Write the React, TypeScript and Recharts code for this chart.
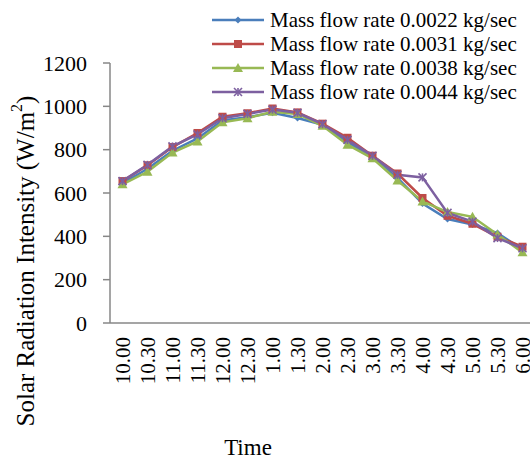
import React from "react";
import { LineChart, Line, XAxis, YAxis, Legend } from "recharts";

const times = ["10.00", "10.30", "11.00", "11.30", "12.00", "12.30", "1.00", "1.30", "2.00", "2.30", "3.00", "3.30", "4.00", "4.30", "5.00", "5.30", "6.00"];
const flow0022 = [645, 712, 795, 852, 935, 950, 970, 946, 915, 835, 765, 670, 551, 480, 455, 415, 340];
const flow0031 = [655, 728, 812, 877, 952, 968, 990, 972, 920, 855, 772, 690, 577, 495, 458, 398, 352];
const flow0038 = [640, 698, 787, 838, 926, 945, 975, 965, 910, 823, 760, 658, 561, 512, 490, 408, 326];
const flow0044 = [655, 730, 815, 870, 945, 965, 985, 970, 918, 845, 772, 684, 672, 508, 468, 392, 345];
const yTicks = [0, 200, 400, 600, 800, 1000, 1200];

const series = [
  { key: "f1", name: "Mass flow rate 0.0022 kg/sec", color: "#4a7ebb", marker: "diamond" },
  { key: "f2", name: "Mass flow rate 0.0031 kg/sec", color: "#be4b48", marker: "square" },
  { key: "f3", name: "Mass flow rate 0.0038 kg/sec", color: "#98b954", marker: "triangle" },
  { key: "f4", name: "Mass flow rate 0.0044 kg/sec", color: "#7d60a0", marker: "star" },
];

const data = times.map((t, i) => ({
  time: t,
  f1: flow0022[i],
  f2: flow0031[i],
  f3: flow0038[i],
  f4: flow0044[i],
}));

const FONT = "'Liberation Serif', 'Times New Roman', serif";
const AXIS = "#878787";

function marker(type: string, cx: number, cy: number, color: string, key?: any) {
  if (type === "diamond") {
    return <path key={key} d={`M${cx},${cy - 3.5}L${cx + 3.5},${cy}L${cx},${cy + 3.5}L${cx - 3.5},${cy}Z`} fill={color} />;
  }
  if (type === "square") {
    return <rect key={key} x={cx - 4} y={cy - 4} width={8} height={8} fill={color} />;
  }
  if (type === "triangle") {
    return <path key={key} d={`M${cx},${cy - 5}L${cx + 5},${cy + 4}L${cx - 5},${cy + 4}Z`} fill={color} />;
  }
  return (
    <g key={key} stroke={color} strokeWidth={1.6}>
      <line x1={cx - 4} y1={cy - 4} x2={cx + 4} y2={cy + 4} />
      <line x1={cx - 4} y1={cy + 4} x2={cx + 4} y2={cy - 4} />
      <line x1={cx} y1={cy - 4} x2={cx} y2={cy + 4} />
    </g>
  );
}

const TimeTick = (props: any) => {
  const { x, y, payload } = props;
  return (
    <text x={x} y={y} transform={`rotate(-90 ${x} ${y})`} textAnchor="end" dy="0.35em" fontSize={21} fontFamily={FONT} fill="#000">
      {payload.value}
    </text>
  );
};

const LegendBox = (props: any) => {
  const items = props.payload || [];
  return (
    <div style={{ fontFamily: FONT, fontSize: 21, lineHeight: "24px", color: "#000" }}>
      {items.map((p: any) => {
        const s = series.find((x) => x.key === p.dataKey) || series[0];
        return (
          <div key={s.key} style={{ display: "flex", alignItems: "center", height: 24, whiteSpace: "nowrap" }}>
            <svg width={52} height={12} style={{ marginRight: 6 }}>
              <line x1={0} y1={6} x2={52} y2={6} stroke={s.color} strokeWidth={2.5} />
              {marker(s.marker, 26, 6, s.color)}
            </svg>
            <span>{s.name}</span>
          </div>
        );
      })}
    </div>
  );
};

export default function App() {
  return (
    <div style={{ position: "fixed", left: 0, top: 0, width: 530, height: 459, overflow: "hidden", background: "#fff" }}>
      <LineChart width={540} height={459} data={data} margin={{ top: 63, right: 5, bottom: 4, left: 0 }}>
        <XAxis
          dataKey="time"
          interval={0}
          padding={{ left: 12.5, right: 12.5 }}
          tickLine={false}
          axisLine={{ stroke: AXIS, strokeWidth: 1.5 }}
          height={132}
          tickSize={6}
          tickMargin={8}
          tick={<TimeTick />}
          label={() => (
            <text x={248} y={455} textAnchor="middle" fontSize={23} fontFamily={FONT} fill="#000">
              Time
            </text>
          )}
        />
        <YAxis
          domain={[0, 1200]}
          ticks={yTicks}
          interval={0}
          width={110}
          tickSize={7}
          tickMargin={16}
          axisLine={{ stroke: AXIS, strokeWidth: 1.5 }}
          tickLine={{ stroke: AXIS, strokeWidth: 1.5 }}
          tick={{ fontSize: 22, fontFamily: FONT, fill: "#000" }}
          label={() => (
            <text x={25} y={261} transform="rotate(-90 25 261)" textAnchor="middle" dominantBaseline="central" fontSize={25} fontFamily={FONT} fill="#000">
              Solar Radiation Intensity (W/m<tspan dy={-9} fontSize={16}>2</tspan><tspan dy={9}>)</tspan>
            </text>
          )}
        />
        <Legend
          layout="vertical"
          align="center"
          verticalAlign="middle"
          wrapperStyle={{ left: 212, top: 8, width: 320 }}
          content={<LegendBox />}
        />
        {series.map((s) => (
          <Line
            key={s.key}
            dataKey={s.key}
            name={s.name}
            stroke={s.color}
            strokeWidth={2.5}
            isAnimationActive={false}
            dot={(d: any) => marker(s.marker, d.cx, d.cy, s.color, `${s.key}-${d.index}`)}
            activeDot={false}
          />
        ))}
      </LineChart>
    </div>
  );
}
